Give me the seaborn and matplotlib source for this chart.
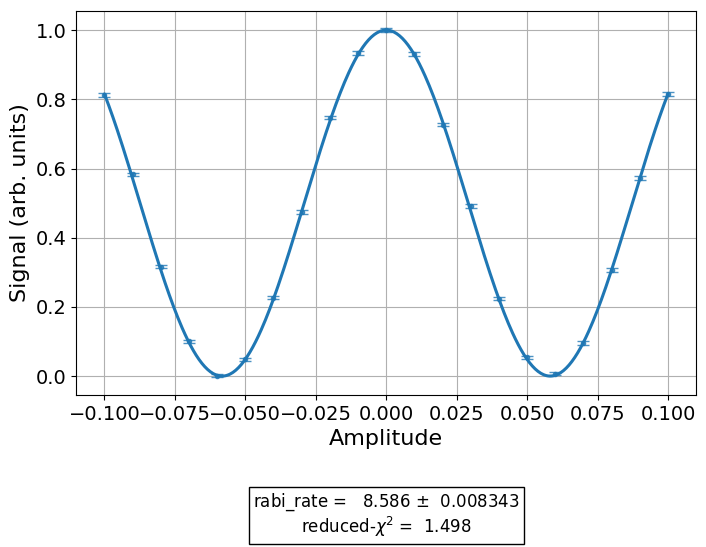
import numpy as np
import pandas as pd
import matplotlib
matplotlib.use("Agg")
import matplotlib.pyplot as plt
import seaborn as sns

amplitude = [-0.10, -0.09, -0.08, -0.07, -0.06, -0.05, -0.04, -0.03, -0.02, -0.01, 0.00,
             0.01, 0.02, 0.03, 0.04, 0.05, 0.06, 0.07, 0.08, 0.09, 0.10]
signal = [0.813, 0.583, 0.316, 0.100, 0.001, 0.048, 0.227, 0.474, 0.747, 0.934, 1.000,
          0.931, 0.727, 0.491, 0.224, 0.054, 0.007, 0.095, 0.307, 0.572, 0.816]
signal_err = [0.005] * len(amplitude)

rabi_rate = 8.586
rabi_rate_err = 0.008343
reduced_chi2 = 1.498

sns.set_style("ticks", rc={"text.color": "black", "axes.labelcolor": "black",
                           "xtick.color": "black", "ytick.color": "black",
                           "axes.edgecolor": "black"})
plt.rcParams["font.family"] = ["DejaVu Sans"]

fig = plt.figure(figsize=(7.06, 5.47), dpi=100)
ax = fig.add_axes([0.108, 0.278, 0.878, 0.702])

# fit curve from the fitted rabi rate
x_fit = np.linspace(min(amplitude), max(amplitude), 400)
fit_df = pd.DataFrame({"Amplitude": x_fit,
                       "Signal": 0.5 * (1 + np.cos(2 * np.pi * rabi_rate * x_fit))})
sns.lineplot(data=fit_df, x="Amplitude", y="Signal", ax=ax, color="#1f77b4", linewidth=2.2, zorder=3)

ax.errorbar(amplitude, signal, yerr=signal_err, fmt="o", markersize=3, color="#1f77b4",
            ecolor="#1f77b4", elinewidth=1, capsize=4, alpha=0.8, zorder=4)

ax.grid(True, color="#b0b0b0", linewidth=0.8)
ax.set_axisbelow(True)
ax.set_xticks(np.arange(-0.1, 0.1001, 0.025))
ax.set_yticks(np.arange(0, 1.01, 0.2))
ax.tick_params(labelsize=14, direction="out", length=3.5)
ax.set_xlabel("Amplitude", fontsize=16)
ax.set_ylabel("Signal (arb. units)", fontsize=16)
for s in ax.spines.values():
    s.set_visible(True)
    s.set_linewidth(0.8)

txt = (f"rabi_rate = {rabi_rate:7.3f} $\\pm$ {rabi_rate_err:9.6f}\n"
       f"reduced-$\\chi^2$ = {reduced_chi2:6.3f}")
fig.text(0.547, 0.058, txt, ha="center", va="center", fontsize=12, linespacing=1.15,
         bbox=dict(boxstyle="square,pad=0.25", facecolor="white", edgecolor="black"))

fig.savefig("out.png", dpi=100)
plt.close(fig)
